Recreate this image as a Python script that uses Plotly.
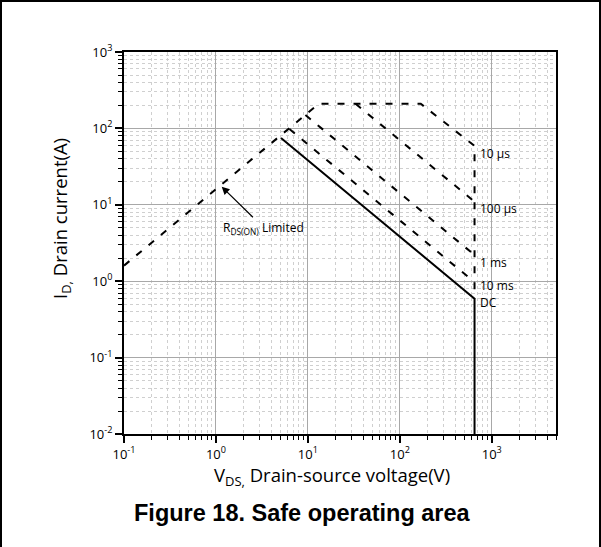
import math
import plotly.graph_objects as go

# ---- data ----
# outer boundary: R_DS(on) limit, current limit, 10 us line, V_DSS limit
v_10us = [0.1, 13.1, 169, 650, 650]
i_10us = [1.6, 210, 210, 59, 0.59]
v_100us = [33, 650]
i_100us = [210, 11]
v_1ms = [9.4, 650]
i_1ms = [150, 2.2]
v_10ms = [6.3, 650]
i_10ms = [98, 0.97]
v_dc = [5.1, 650, 650]
i_dc = [75, 0.59, 0.01]

curve_labels = ["10 µs", "100 µs", "1 ms", "10 ms", "DC"]
label_v = [650, 650, 650, 650, 650]
label_i = [59, 11, 2.2, 0.97, 0.59]
label_dy = [-8, -7, -7, -3, -4]

x_tickvals = [0.1, 1, 10, 100, 1000]
x_ticktext = ["10<sup>-1</sup>", "10<sup>0</sup>", "10<sup>1</sup>", "10<sup>2</sup>", "10<sup>3</sup>"]
y_tickvals = [0.01, 0.1, 1, 10, 100, 1000]
y_ticktext = ["10<sup>-2</sup>", "10<sup>-1</sup>", "10<sup>0</sup>", "10<sup>1</sup>", "10<sup>2</sup>", "10<sup>3</sup>"]

x_minor = [m * 10 ** e for e in range(-1, 4) for m in range(2, 10) if m * 10 ** e <= 5000]
y_minor = [m * 10 ** e for e in range(-2, 3) for m in range(2, 10)]

# ---- layout geometry (pixels) ----
W, H = 601, 547
L, R, T, B = 124, 556, 52, 434
PW, PH = R - L, B - T


def px(x):
    return (x - L) / PW


def py(y):
    return (B - y) / PH


FONT = "Open Sans"
dash = "7px,9px"

fig = go.Figure()
for v, i, d in [(v_10us, i_10us, dash), (v_100us, i_100us, dash), (v_1ms, i_1ms, dash),
                (v_10ms, i_10ms, dash), (v_dc, i_dc, "solid")]:
    fig.add_trace(go.Scatter(x=v, y=i, mode="lines",
                             line=dict(color="black", width=2, dash=d),
                             showlegend=False, hoverinfo="skip"))

annotations = []
for txt, v, i, dy in zip(curve_labels, label_v, label_i, label_dy):
    annotations.append(dict(x=math.log10(v), y=math.log10(i), xref="x", yref="y",
                            text=txt, showarrow=False, xanchor="left", yanchor="middle",
                            xshift=3, yshift=dy,
                            font=dict(family=FONT, size=12, color="black")))

# R_DS(on) limited arrow
annotations.append(dict(x=px(221.7), y=py(186.7), xref="paper", yref="paper",
                        text="R<sub>DS(ON)</sub> Limited", showarrow=True,
                        ax=42, ay=41, arrowhead=2, arrowsize=1.3, arrowwidth=1.2,
                        arrowcolor="black",
                        font=dict(family=FONT, size=12, color="black")))

# axis titles
annotations.append(dict(x=px(332), y=py(476), xref="paper", yref="paper",
                        text="V<sub>DS,</sub> Drain-source voltage(V)", showarrow=False,
                        xanchor="center", yanchor="middle",
                        font=dict(family=FONT, size=18.5, color="black")))
annotations.append(dict(x=px(61), y=py(218), xref="paper", yref="paper",
                        text="I<sub>D,</sub> Drain current(A)", showarrow=False,
                        textangle=-90, xanchor="center", yanchor="middle",
                        font=dict(family=FONT, size=18.5, color="black")))
# caption
annotations.append(dict(x=px(302), y=py(513), xref="paper", yref="paper",
                        text="<b>Figure 18. Safe operating area</b>", showarrow=False,
                        xanchor="center", yanchor="middle",
                        font=dict(family="Liberation Sans", size=23.5, color="black")))

axis_common = dict(
    type="log", showline=True, linecolor="black", linewidth=2, mirror=True,
    ticks="outside", ticklen=7, tickwidth=1.5, tickcolor="black",
    showgrid=True, gridcolor="#a8a8a8", gridwidth=1, zeroline=False,
    tickfont=dict(family=FONT, size=13, color="black"),
)

fig.update_layout(
    width=W, height=H,
    margin=dict(l=L, r=W - R, t=T, b=H - B),
    paper_bgcolor="white", plot_bgcolor="white",
    xaxis=dict(**axis_common, range=[-1, math.log10(5000)],
               tickmode="array", tickvals=x_tickvals, ticktext=x_ticktext,
               minor=dict(tickmode="array", tickvals=x_minor, ticks="outside",
                          ticklen=4, tickwidth=1, tickcolor="black",
                          showgrid=True, gridcolor="#cfcfcf", griddash="dot", gridwidth=1)),
    yaxis=dict(**axis_common, range=[-2, 3],
               tickmode="array", tickvals=y_tickvals, ticktext=y_ticktext,
               minor=dict(tickmode="array", tickvals=y_minor, ticks="outside",
                          ticklen=4, tickwidth=1, tickcolor="black",
                          showgrid=True, gridcolor="#cfcfcf", griddash="dot", gridwidth=1)),
    annotations=annotations,
    shapes=[dict(type="rect", xref="paper", yref="paper",
                 x0=px(1), x1=px(600), y0=py(1), y1=py(620),
                 line=dict(color="black", width=2), layer="above")],
)

fig.write_html("out.html", config={"displayModeBar": False},
               post_script="document.body.style.margin='0';document.body.style.overflow='hidden';")
